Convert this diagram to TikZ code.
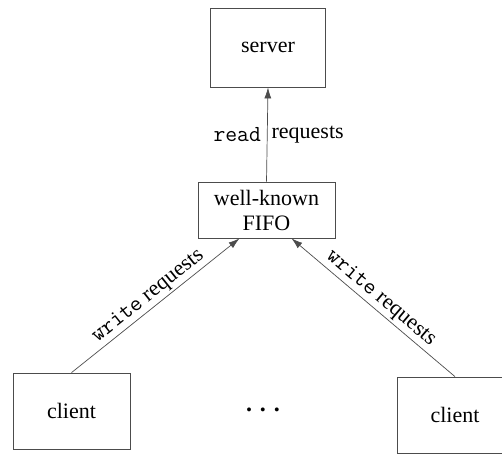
\documentclass[tikz,border=0pt]{standalone}
\usepackage{fontspec}
\setmainfont{Liberation Serif}
\usetikzlibrary{arrows.meta,calc}
\newcommand{\monow}{{\fontsize{23}{25}\ttfamily write}}
\begin{document}
\begin{tikzpicture}[x=1pt,y=-1pt,
  box/.style={draw=black!70,line width=0.8pt,rectangle,inner sep=0pt,align=center,
    font=\fontsize{22}{25}\selectfont},
  conn/.style={draw=black!70,line width=0.7pt,-{Latex[length=11pt,width=7pt]}},
  lbl/.style={font=\fontsize{22}{25}\selectfont,inner sep=2pt},
  mono/.style={font=\fontsize{23}{25}\ttfamily}]
\useasboundingbox (0,0) rectangle (502,453);
\node[box,minimum width=115pt,minimum height=79pt] (server) at (268,47.5) {server};
\node[box,minimum width=137pt,minimum height=56pt] (fifo) at (266.5,210) {well-known\\FIFO};
\node[box,minimum width=117pt,minimum height=76pt] (lc) at (71.5,411) {client};
\node[box,minimum width=116pt,minimum height=76pt] (rc) at (455,415) {client};
\node[font=\fontsize{24}{25}\selectfont\bfseries] (dots) at (263,410) {.\,\,.\,\,.};
\coordinate (fl) at ($(fifo.south)+(-27,0)$);
\coordinate (fr) at ($(fifo.south)+(25,0)$);
\draw[conn] (fifo.north) -- (server.south)
  node[pos=0.5,anchor=east,mono,inner sep=6pt] {read}
  node[pos=0.5,anchor=west,lbl,inner sep=4pt] {requests};
\draw[conn] (lc.north) -- (fl)
  node[pos=0.5,sloped,above,inner sep=3pt,lbl] {\monow{} requests};
\draw[conn] (rc.north) -- (fr)
  node[pos=0.5,sloped,above,inner sep=3pt,lbl] {\monow{} requests};
\end{tikzpicture}
\end{document}
